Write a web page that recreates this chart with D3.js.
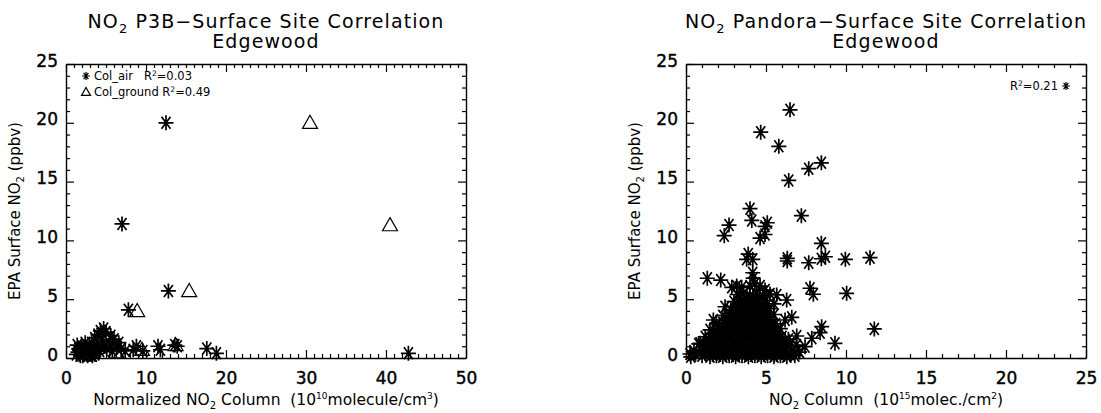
<!DOCTYPE html>
<html><head><meta charset="utf-8">
<script src="https://cdn.jsdelivr.net/npm/d3@7"></script>
<style>body{margin:0;background:#fff}text{font-family:"DejaVu Sans",sans-serif;fill:#000}</style>
</head><body>
<svg id="c" width="1101" height="413"></svg>
<script>
// ---------- data ----------
const yTicks = [0, 5, 10, 15, 20, 25];
const leftXTicks = [0, 10, 20, 30, 40, 50];
const rightXTicks = [0, 5, 10, 15, 20, 25];
const leftR2Air = "0.03", leftR2Ground = "0.49", rightR2 = "0.21";

// P3B column (Col_air) vs surface NO2
const leftAir = [
  [12.5,20.0],[7.0,11.4],[12.8,5.7],[7.8,4.1],[42.8,0.4],[17.6,0.8],[18.8,0.4],
  [11.5,1.0],[11.8,0.7],[13.6,1.1],[13.9,1.0],[8.4,0.7],[8.8,1.0],[9.6,0.6],
  [6.6,1.3],[6.9,0.8],[7.4,0.6],[5.6,1.9],[6.0,1.6],[5.1,0.8],[4.7,2.5],[4.3,2.3],
  [4.0,2.0],[3.6,1.7],[4.5,1.5],[5.0,2.2],[3.2,1.3],[1.3,0.3],[1.6,0.8],[1.8,0.2],
  [2.0,1.0],[2.2,0.5],[2.5,0.9],[2.7,0.2],[2.9,1.1],[3.1,0.6],[3.4,0.9],[3.6,0.3],
  [1.4,1.1],[2.4,1.3],[3.9,1.0],[4.2,0.6],[1.9,0.6],[3.0,0.3],[2.6,0.6],[5.5,1.2],[4.8,1.0],
  [1.5,0.5],[2.1,0.2],[2.8,0.7],[3.3,0.2],[3.8,0.6],[4.4,0.9],[5.8,0.6],[6.3,0.9]
];
// P3B column (Col_ground) vs surface NO2
const leftGround = [
  [30.5,20.0],[40.5,11.3],[15.4,5.7],[8.9,4.0],[9.5,0.7],[13.7,1.1],[6.3,0.5],
  [2.5,0.4],[3.3,0.8],[4.4,1.1]
];
// Pandora column vs surface NO2
const rightPts = [
  [6.5,21.1],[4.67,19.2],[5.8,18.0],[7.67,16.1],[8.46,16.6],[6.42,15.1],[4.0,12.7],
  [4.11,11.7],[7.21,12.1],[2.69,11.3],[2.39,10.4],[5.08,11.5],[4.94,11.2],[4.94,10.5],
  [4.63,10.2],[8.46,9.75],[3.89,8.84],[3.79,8.39],[4.17,8.39],[4.17,7.25],[4.2,6.8],
  [6.33,8.48],[6.33,8.25],[7.67,8.1],[8.46,8.44],[8.71,8.61],[9.96,8.39],[11.5,8.53],
  [1.33,6.78],[2.17,6.63],[11.77,2.47],
  [7.75,5.93],[7.96,5.42],[10.04,5.5],[2.44,4.36],[1.71,3.23],[6.61,3.46],[6.19,3.23],
  [8.48,2.66],[8.38,2.15],[6.92,1.87],[7.86,1.68],[9.31,1.25],[7.44,0.96],[0.88,1.25],
  [0.25,0.34],[6.29,4.93],[5.67,5.36],[5.25,5.44],[4.94,5.78],
  [2.86,6.01],[3.17,6.12],[3.48,6.01],[4.0,6.12],[4.31,6.35],[4.63,6.12],
  [3.2,5.4],[3.6,5.5],[4.0,5.3],[4.4,5.5],[4.8,5.3],
  [3.0,4.8],[3.4,4.7],[3.8,4.9],[4.2,4.8],[4.6,4.7],[5.0,4.9],[5.5,4.6],
  [2.8,4.1],[3.2,4.3],[3.6,4.1],[4.0,4.2],[4.4,4.3],[4.8,4.1],[5.2,4.2],
  [2.3,3.6],[2.7,3.5],[3.1,3.7],[3.5,3.6],[3.9,3.5],[4.3,3.7],[4.7,3.6],[5.1,3.5],[5.5,3.7],
  [1.9,2.9],[2.3,3.0],[2.7,3.1],[3.1,2.9],[3.5,3.0],[3.9,3.1],[4.3,2.9],[4.7,3.0],[5.1,3.1],[5.6,2.9],
  [1.5,2.4],[1.9,2.3],[2.3,2.5],[2.7,2.4],[3.1,2.3],[3.5,2.5],[3.9,2.4],[4.3,2.3],[4.7,2.5],[5.1,2.4],[5.5,2.3],[5.9,2.5],
  [1.2,1.8],[1.6,1.7],[2.0,1.9],[2.4,1.8],[2.8,1.7],[3.2,1.9],[3.6,1.8],[4.0,1.7],[4.4,1.9],[4.8,1.8],[5.2,1.7],[5.6,1.9],[6.0,1.8],[6.4,1.6],
  [0.8,1.2],[1.2,1.1],[1.6,1.3],[2.0,1.2],[2.4,1.1],[2.8,1.3],[3.2,1.2],[3.6,1.1],[4.0,1.3],[4.4,1.2],[4.8,1.1],[5.2,1.3],[5.6,1.2],[6.0,1.1],[6.5,1.3],[6.9,1.1],
  [0.5,0.6],[0.9,0.7],[1.3,0.5],[1.7,0.6],[2.1,0.7],[2.5,0.5],[2.9,0.6],[3.3,0.7],[3.7,0.5],[4.1,0.6],[4.5,0.7],[4.9,0.5],[5.3,0.6],[5.7,0.7],[6.1,0.5],[6.6,0.6],[7.1,0.5],
  [0.3,0.1],[1.0,0.2],[1.5,0.1],[1.9,0.2],[2.3,0.1],[2.7,0.2],[3.1,0.1],[3.5,0.2],[3.9,0.1],[4.3,0.2],[4.7,0.1],[5.1,0.2],[5.5,0.1],[5.9,0.2],[6.3,0.1],[6.8,0.2],
  [0.6,0.35],[1.2,0.4],[1.7,0.3],[2.1,0.35],[2.5,0.4],[2.9,0.3],[3.3,0.35],[3.7,0.4],[4.1,0.3],[4.5,0.35],[4.9,0.4],[5.3,0.3],[5.7,0.35],[6.1,0.4],[6.5,0.3],
  [1.1,0.9],[1.5,0.85],[1.9,0.95],[2.3,0.9],[2.7,0.85],[3.1,0.95],[3.5,0.9],[3.9,0.85],[4.3,0.95],[4.7,0.9],[5.1,0.85],[5.5,0.95],[5.9,0.9],[6.3,0.85],
  [1.4,1.5],[1.8,1.45],[2.2,1.55],[2.6,1.5],[3.0,1.45],[3.4,1.55],[3.8,1.5],[4.2,1.45],[4.6,1.55],[5.0,1.5],[5.4,1.45],[5.8,1.55],[6.2,1.5],
  [1.7,2.1],[2.1,2.05],[2.5,2.15],[2.9,2.1],[3.3,2.05],[3.7,2.15],[4.1,2.1],[4.5,2.05],[4.9,2.15],[5.3,2.1],[5.7,2.05],
  [2.1,2.7],[2.5,2.65],[2.9,2.75],[3.3,2.7],[3.7,2.65],[4.1,2.75],[4.5,2.7],[4.9,2.65],[5.3,2.75],
  [2.5,3.3],[2.9,3.25],[3.3,3.35],[3.7,3.3],[4.1,3.25],[4.5,3.35],[4.9,3.3],[5.3,3.25],
  [2.9,3.9],[3.3,3.85],[3.7,3.95],[4.1,3.9],[4.5,3.85],[4.9,3.95],
  [3.2,4.5],[3.6,4.45],[4.0,4.55],[4.4,4.5],[4.8,4.45],
  [3.4,5.1],[3.8,5.05],[4.2,5.15],[4.6,5.1]
];

// ---------- drawing ----------
const svg = d3.select("#c");
const TOP = 64, BOTTOM = 358;

function asterisk(r){
  const a = r*0.6, b = r*0.8;
  return `M0,${-r}L0,${r}M${-r},0L${r},0M${-a},${-b}L${a},${b}M${-a},${b}L${a},${-b}`;
}
function triangle(r){
  return `M0,${-r}L${r},${r*0.75}L${-r},${r*0.75}Z`;
}
function range(a,b,s){const o=[];for(let v=a;v<=b+1e-9;v+=s)o.push(+v.toFixed(6));return o;}

function panel(opt){
  const x = d3.scaleLinear().domain([0, opt.xmax]).range([opt.x0, opt.x0+400]);
  const y = d3.scaleLinear().domain([0, 25]).range([BOTTOM, TOP]);
  const g = svg.append("g");
  const minorX = range(0, opt.xmax, opt.xminor).filter(v=>!opt.xticks.includes(v));
  const minorY = range(0, 25, 1).filter(v=>!yTicks.includes(v));

  const style = sel => { sel.selectAll("path.domain").attr("stroke","#000").attr("stroke-width",1.4);
    sel.selectAll(".tick line").attr("stroke","#000").attr("stroke-width",1.2); };

  // bottom
  g.append("g").attr("transform",`translate(0,${BOTTOM})`)
    .call(d3.axisBottom(x).tickValues(opt.xticks).tickSize(-8).tickSizeOuter(0).tickPadding(14).tickFormat(d3.format("d")))
    .call(style)
    .call(s=>s.selectAll("text").attr("font-size",17).attr("font-family","DejaVu Sans").attr("stroke","#000").attr("stroke-width",0.4));
  g.append("g").attr("transform",`translate(0,${BOTTOM})`)
    .call(d3.axisBottom(x).tickValues(minorX).tickSize(-4).tickFormat(""))
    .call(style).call(s=>s.select("path.domain").remove());
  // top
  g.append("g").attr("transform",`translate(0,${TOP})`)
    .call(d3.axisTop(x).tickValues(opt.xticks).tickSize(-8).tickSizeOuter(0).tickFormat(""))
    .call(style);
  g.append("g").attr("transform",`translate(0,${TOP})`)
    .call(d3.axisTop(x).tickValues(minorX).tickSize(-4).tickFormat(""))
    .call(style).call(s=>s.select("path.domain").remove());
  // left
  g.append("g").attr("transform",`translate(${opt.x0},0)`)
    .call(d3.axisLeft(y).tickValues(yTicks).tickSize(-8).tickSizeOuter(0).tickPadding(8).tickFormat(d3.format("d")))
    .call(style)
    .call(s=>s.selectAll("text").attr("font-size",17).attr("font-family","DejaVu Sans").attr("dy","0.12em").attr("stroke","#000").attr("stroke-width",0.4));
  g.append("g").attr("transform",`translate(${opt.x0},0)`)
    .call(d3.axisLeft(y).tickValues(minorY).tickSize(-4).tickFormat(""))
    .call(style).call(s=>s.select("path.domain").remove());
  // right
  g.append("g").attr("transform",`translate(${opt.x0+400},0)`)
    .call(d3.axisRight(y).tickValues(yTicks).tickSize(-8).tickSizeOuter(0).tickFormat(""))
    .call(style);
  g.append("g").attr("transform",`translate(${opt.x0+400},0)`)
    .call(d3.axisRight(y).tickValues(minorY).tickSize(-4).tickFormat(""))
    .call(style).call(s=>s.select("path.domain").remove());

  // titles
  const cx = opt.x0 + 200;
  const t1 = g.append("text").attr("x",cx).attr("y",28).attr("text-anchor","middle").attr("font-size",19)
    .attr("letter-spacing","1.1px");
  t1.append("tspan").text("NO");
  t1.append("tspan").attr("font-size",13).attr("dy",5).text("2");
  t1.append("tspan").attr("dy",-5).text(" " + opt.title);
  g.append("text").attr("x",cx).attr("y",48).attr("text-anchor","middle").attr("font-size",19)
    .attr("letter-spacing","1.1px").text("Edgewood");

  // y title
  const yt = g.append("text").attr("transform",`translate(${opt.x0-46},${(TOP+BOTTOM)/2}) rotate(-90)`)
    .attr("text-anchor","middle").attr("font-size",15);
  yt.append("tspan").text("EPA Surface NO");
  yt.append("tspan").attr("font-size",10).attr("dy",4).text("2");
  yt.append("tspan").attr("dy",-4).text(" (ppbv)");

  // x title
  const xt = g.append("text").attr("x",cx).attr("y",405).attr("text-anchor","middle").attr("font-size",15.5)
    .style("white-space","pre");
  opt.xtitle(xt);

  return {g,x,y};
}

const L = panel({x0:66, xmax:50, xticks:leftXTicks, xminor:1, title:"P3B\u2212Surface Site Correlation",
  xtitle: t => { t.append("tspan").text("Normalized NO");
    t.append("tspan").attr("font-size",10).attr("dy",4).text("2");
    t.append("tspan").attr("dy",-4).text(" Column  (10");
    t.append("tspan").attr("font-size",9).attr("dy",-6).text("10");
    t.append("tspan").attr("dy",6).text("molecule/cm");
    t.append("tspan").attr("font-size",9).attr("dy",-6).text("3");
    t.append("tspan").attr("dy",6).text(")"); }});
const R = panel({x0:686, xmax:25, xticks:rightXTicks, xminor:1, title:"Pandora\u2212Surface Site Correlation",
  xtitle: t => { t.append("tspan").text("NO");
    t.append("tspan").attr("font-size",10).attr("dy",4).text("2");
    t.append("tspan").attr("dy",-4).text(" Column  (10");
    t.append("tspan").attr("font-size",9).attr("dy",-6).text("15");
    t.append("tspan").attr("dy",6).text("molec./cm");
    t.append("tspan").attr("font-size",9).attr("dy",-6).text("2");
    t.append("tspan").attr("dy",6).text(")"); }});

// points
function drawPts(P, data, path, sw){
  P.g.append("g").selectAll("path").data(data).join("path")
    .attr("transform", d=>`translate(${P.x(d[0])},${P.y(d[1])})`)
    .attr("d", path).attr("fill","none").attr("stroke","#000").attr("stroke-width",sw);
}
drawPts(L, leftAir, asterisk(7.5), 1.7);
drawPts(L, leftGround, triangle(7.5), 1.2);
drawPts(R, rightPts, asterisk(7.5), 1.7);

// legends
function legSym(P, sx, sy, sym){
  P.g.append("path").attr("transform",`translate(${sx},${sy})`).attr("d",sym)
    .attr("fill","none").attr("stroke","#000").attr("stroke-width",1.2);
}
legSym(L, 86, 76, asterisk(4));
const lt1 = L.g.append("text").attr("x",94).attr("y",80).attr("font-size",11.5).style("white-space","pre");
lt1.append("tspan").text("Col_air   R");
lt1.append("tspan").attr("font-size",7.5).attr("dy",-4).text("2");
lt1.append("tspan").attr("dy",4).text("=" + leftR2Air);
legSym(L, 86, 92, triangle(4.5));
const lt2 = L.g.append("text").attr("x",94).attr("y",96).attr("font-size",11.5).style("white-space","pre");
lt2.append("tspan").text("Col_ground R");
lt2.append("tspan").attr("font-size",7.5).attr("dy",-4).text("2");
lt2.append("tspan").attr("dy",4).text("=" + leftR2Ground);

const rt = R.g.append("text").attr("x",1058).attr("y",90).attr("font-size",11.5).attr("text-anchor","end");
rt.append("tspan").text("R");
rt.append("tspan").attr("font-size",7.5).attr("dy",-4).text("2");
rt.append("tspan").attr("dy",4).text("=" + rightR2);
legSym(R, 1066, 86, asterisk(4));
</script>
</body></html>
